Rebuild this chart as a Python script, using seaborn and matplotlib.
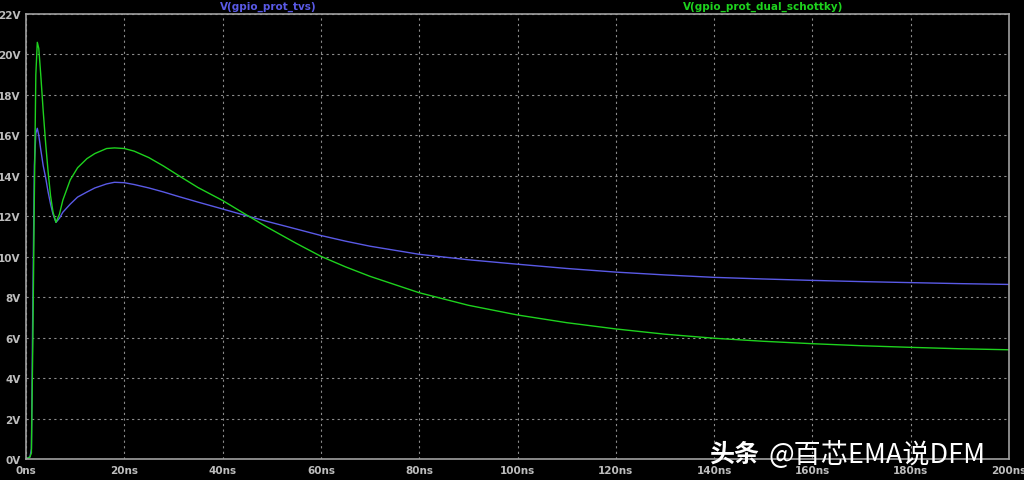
import numpy as np
import pandas as pd
from matplotlib import pyplot as plt
import seaborn as sns

# time points (ns)
t_ns = [0, 0.8, 1.1, 1.4, 1.7, 2.0, 2.3, 2.6, 3.0, 3.5, 4.0, 4.5, 5.0, 5.5, 6.1,
        6.8, 7.5, 9, 10.5, 12.4, 14, 16.4, 18, 20, 22, 25, 28, 31, 35, 40, 44.5,
        49, 55, 60, 65, 70, 80, 90, 100, 110, 120, 130, 140, 150, 160, 170, 180,
        190, 200]

# V(gpio_prot_tvs)
v_tvs = [0, 0.1, 0.5, 8.0, 14.5, 16.1, 16.35, 16.0, 15.3, 14.5, 13.9, 13.2, 12.6,
         12.1, 11.7, 11.9, 12.2, 12.6, 12.95, 13.2, 13.4, 13.6, 13.68, 13.66,
         13.57, 13.4, 13.2, 12.98, 12.7, 12.36, 12.05, 11.75, 11.37, 11.05,
         10.77, 10.52, 10.12, 9.85, 9.63, 9.42, 9.24, 9.1, 8.98, 8.9, 8.83, 8.77,
         8.72, 8.67, 8.63]

# V(gpio_prot_dual_schottky)
v_schottky = [0, 0.1, 0.3, 6.0, 13.0, 19.0, 20.6, 20.3, 19.0, 17.2, 15.6, 14.2,
              13.0, 12.2, 11.7, 12.1, 12.8, 13.8, 14.4, 14.85, 15.1, 15.35,
              15.38, 15.35, 15.22, 14.9, 14.48, 14.02, 13.42, 12.78, 12.12,
              11.47, 10.66, 10.02, 9.5, 9.03, 8.22, 7.6, 7.12, 6.74, 6.43, 6.17,
              5.97, 5.82, 5.7, 5.6, 5.52, 5.45, 5.4]

x_ticks = list(range(0, 201, 20))
y_ticks = list(range(0, 23, 2))

df = pd.DataFrame({'t': t_ns, 'tvs': v_tvs, 'schottky': v_schottky})

sns.set_style('dark')
plt.rcParams['font.family'] = ['Noto Sans CJK SC', 'DejaVu Sans']

fig = plt.figure(figsize=(10.24, 4.81), dpi=100, facecolor='black')
ax = fig.add_axes([26 / 1024, 21 / 481, 983 / 1024, 445 / 481])
ax.set_facecolor('black')

sns.lineplot(data=df, x='t', y='tvs', ax=ax, color='#5a5ae6', linewidth=1.0)
sns.lineplot(data=df, x='t', y='schottky', ax=ax, color='#1ed21e', linewidth=1.0)

ax.set_xlim(0, 200)
ax.set_ylim(0, 22)
ax.set_xticks(x_ticks)
ax.set_xticklabels([f'{v}ns' for v in x_ticks])
ax.set_yticks(y_ticks)
ax.set_yticklabels([f'{v}V' for v in y_ticks])
ax.set_xlabel('')
ax.set_ylabel('')

ax.grid(True, color='#8c8c8c', linestyle=(0, (2, 3)), linewidth=0.8)
for s in ax.spines.values():
    s.set_visible(True)
    s.set_color('#a0a0a0')
    s.set_linewidth(1.2)
ax.tick_params(colors='#a0a0a0', labelcolor='#bdbdbd', labelsize=7.5,
               length=3, width=1, direction='out', pad=1)
for lab in ax.get_xticklabels() + ax.get_yticklabels():
    lab.set_fontweight('bold')
    lab.set_family('DejaVu Sans')

fig.text(268 / 1024, 1 - 7 / 481, 'V(gpio_prot_tvs)', color='#5a5ae6',
         fontsize=7.5, fontweight='bold', ha='center', va='center',
         family='DejaVu Sans')
fig.text(763 / 1024, 1 - 7 / 481, 'V(gpio_prot_dual_schottky)', color='#1ed21e',
         fontsize=7.5, fontweight='bold', ha='center', va='center',
         family='DejaVu Sans')

# watermark
fig.text(709 / 1024, 1 - 455 / 481, '头条', color='white', fontsize=18,
         fontweight='bold', ha='left', va='center')
fig.text(769 / 1024, 1 - 455 / 481, '@百芯EMA说DFM', color='white', fontsize=19.5,
         ha='left', va='center')

fig.savefig('out.png', dpi=100, facecolor='black')
